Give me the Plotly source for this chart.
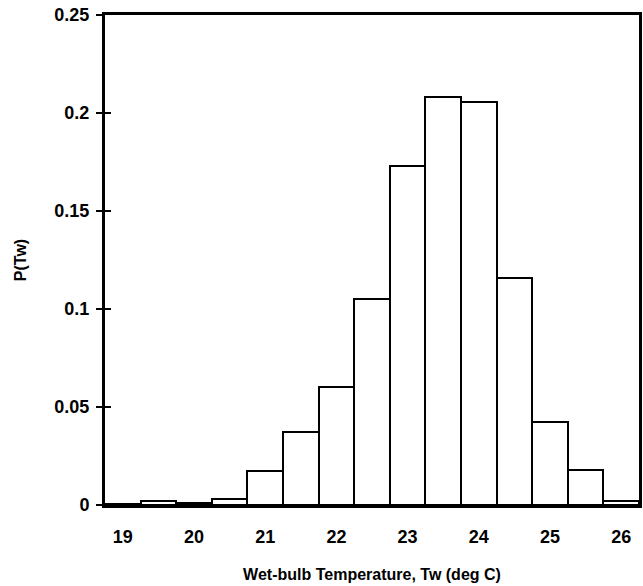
import plotly.graph_objects as go

temps = [19, 19.5, 20, 20.5, 21, 21.5, 22, 22.5, 23, 23.5, 24, 24.5, 25, 25.5, 26]
probs = [0.0003, 0.0022, 0.001, 0.0032, 0.0175, 0.0371, 0.060, 0.1053, 0.173, 0.208, 0.2055, 0.1158, 0.0422, 0.0179, 0.0022]
x_ticks = [19, 20, 21, 22, 23, 24, 25, 26]
y_ticks = [0, 0.05, 0.1, 0.15, 0.2, 0.25]
y_labels = ["0", "0.05", "0.1", "0.15", "0.2", "0.25"]

FAM = "Liberation Sans, Arial, sans-serif"
tfont = dict(family=FAM, size=18, color="black", weight="bold")

fig = go.Figure()
fig.add_trace(go.Bar(
    x=temps, y=probs, width=0.5,
    marker=dict(color="white", line=dict(color="black", width=2)),
    showlegend=False,
))
fig.add_trace(go.Scatter(x=[temps[0]], y=[0], yaxis="y2", mode="markers",
                         marker=dict(opacity=0), showlegend=False, hoverinfo="skip"))

fig.update_layout(
    width=643, height=586,
    margin=dict(l=105, r=4, t=15, b=81, autoexpand=False),
    plot_bgcolor="white", paper_bgcolor="white",
    font=dict(family=FAM, size=16, color="black"),
    bargap=0,
    xaxis=dict(
        range=[18.75, 26.25], tickvals=x_ticks, ticktext=[str(v) for v in x_ticks],
        showline=True, linecolor="black", linewidth=3, mirror=True,
        ticks="", showgrid=False, zeroline=False, automargin=False,
        ticklabelstandoff=13,
        tickfont=tfont,
        title=dict(text="<b>Wet-bulb Temperature, Tw (deg C)</b>", standoff=24,
                   font=dict(family=FAM, size=16, color="black")),
    ),
    yaxis=dict(
        range=[0, 0.25], tickvals=y_ticks, ticktext=y_labels,
        showline=True, linecolor="black", linewidth=3, mirror=True,
        ticks="outside", ticklen=6, tickwidth=2, tickcolor="black",
        showgrid=False, zeroline=False, automargin=False,
        ticklabelstandoff=3,
        tickfont=tfont,
        title=dict(text="<b>P(Tw)</b>", standoff=24,
                   font=dict(family=FAM, size=16, color="black")),
    ),
    yaxis2=dict(
        range=[0, 0.25], tickvals=y_ticks, overlaying="y", side="left", anchor="x",
        ticks="inside", ticklen=6, tickwidth=2, tickcolor="black",
        showticklabels=False, showgrid=False, zeroline=False, showline=False,
        automargin=False,
    ),
)

fig.write_html("out.html", config={"displayModeBar": False})

# remove the default browser body margin so the figure sits at the page origin
with open("out.html", "r", encoding="utf-8") as f:
    html = f.read()
html = html.replace("<head>", "<head><style>html,body{margin:0;padding:0;}</style>", 1)
with open("out.html", "w", encoding="utf-8") as f:
    f.write(html)
